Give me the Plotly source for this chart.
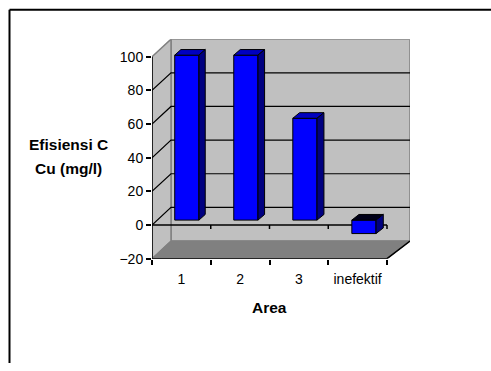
import plotly.graph_objects as go

# ---- data ----
categories = ["1", "2", "3", "inefektif"]
values = [98, 98, 60.5, -8]
y_ticks = [-20, 0, 20, 40, 60, 80, 100]
y_title_lines = ["Efisiensi C", "Cu (mg/l)"]
x_title = "Area"

# ---- geometry / style ----
W, H = 491, 371
Y_MIN, Y_MAX = -20, 100
DEPTH_X = 0.3234      # x-units of full depth
DEPTH_Y = 10.47       # y-units of full depth
PERSP = 0.017
BAR_W = 0.41
D0, D1 = 0.28, 0.60
FONT = "Arial, Liberation Sans, sans-serif"

X_LO = -0.5
X_HI = len(categories) - 0.5


def P(x, y, d):
    return (X_LO + (x - X_LO) * (1 + PERSP * d) + DEPTH_X * d, y + DEPTH_Y * d)


fig = go.Figure()


def poly(pts, fill, line="black", lw=1):
    xs = [p[0] for p in pts] + [pts[0][0]]
    ys = [p[1] for p in pts] + [pts[0][1]]
    fig.add_trace(go.Scatter(x=xs, y=ys, mode="lines", fill="toself",
                             fillcolor=fill, line=dict(color=line, width=lw),
                             hoverinfo="skip", showlegend=False))


def seg(pts, color="black", lw=1):
    fig.add_trace(go.Scatter(x=[p[0] for p in pts], y=[p[1] for p in pts],
                             mode="lines", line=dict(color=color, width=lw),
                             hoverinfo="skip", showlegend=False))


GRAY = "#C0C0C0"
DGRAY = "#808080"

# walls and floor
poly([P(X_LO, Y_MIN, 1), P(X_HI, Y_MIN, 1), P(X_HI, Y_MAX, 1), P(X_LO, Y_MAX, 1)], GRAY, DGRAY, 1.5)
poly([P(X_LO, Y_MIN, 0), P(X_LO, Y_MIN, 1), P(X_LO, Y_MAX, 1), P(X_LO, Y_MAX, 0)], GRAY, DGRAY, 1.5)
poly([P(X_LO, Y_MIN, 0), P(X_HI, Y_MIN, 0), P(X_HI, Y_MIN, 1), P(X_LO, Y_MIN, 1)], DGRAY, DGRAY, 1)

# gridlines
for v in y_ticks:
    if Y_MIN < v < Y_MAX:
        seg([P(X_LO, v, 0), P(X_LO, v, 1), P(X_HI, v, 1)], "black", 1.2)

# front zero line with category ticks (behind bars)
seg([P(X_LO, 0, 0), P(X_HI, 0, 0)], "black", 1.5)
TL = 2.3
for k in range(1, len(categories) + 1):
    b = X_LO + k
    seg([P(b, 0, 0), P(b, -TL, 0)], "black", 1.5)

# bars
for i, v in enumerate(values):
    x0, x1 = i - BAR_W / 2, i + BAR_W / 2
    lo, hi = min(0, v), max(0, v)
    top_col = "#0000C0" if v >= 0 else "#000018"
    poly([P(x0, lo, D0), P(x1, lo, D0), P(x1, hi, D0), P(x0, hi, D0)], "#0000FF")
    poly([P(x0, hi, D0), P(x1, hi, D0), P(x1, hi, D1), P(x0, hi, D1)], top_col)
    poly([P(x1, lo, D0), P(x1, lo, D1), P(x1, hi, D1), P(x1, hi, D0)], "#000080")

# front edges
seg([P(X_LO, Y_MIN, 0), P(X_LO, Y_MAX, 0)], "black", 1.5)
seg([P(X_LO, Y_MIN, 0), P(X_HI, Y_MIN, 0), P(X_HI, Y_MIN, 1)], "black", 1.5)

x_rng = [X_LO, P(X_HI, 0, 1)[0]]
y_rng = [Y_MIN, Y_MAX + DEPTH_Y]

fig.update_layout(
    width=W, height=H, margin=dict(l=0, r=0, t=0, b=0),
    paper_bgcolor="white", plot_bgcolor="rgba(0,0,0,0)",
    font=dict(family=FONT, size=14, color="black"),
    xaxis=dict(domain=[152 / W, 410 / W], range=x_rng, showgrid=False, zeroline=False,
               showline=False, tickmode="array", tickvals=list(range(len(categories))),
               ticktext=categories, ticks="", ticklabelstandoff=10,
               minor=dict(tickmode="array", tickvals=[X_LO + k for k in range(len(categories) + 1)],
                          ticks="outside", ticklen=5, tickcolor="black", tickwidth=1.5),
               fixedrange=True),
    yaxis=dict(domain=[1 - 264.4 / H, 1 - 40 / H], range=y_rng, showgrid=False, zeroline=False,
               showline=False, tickmode="array", tickvals=y_ticks, ticks="outside",
               ticklen=5, tickcolor="black", tickwidth=1.5, fixedrange=True),
    shapes=[
        dict(type="line", xref="paper", yref="paper", x0=9.5 / W, x1=9.5 / W,
             y0=0, y1=1 - 10 / H, line=dict(color="black", width=2)),
        dict(type="line", xref="paper", yref="paper", x0=9.5 / W, x1=1,
             y0=1 - 10 / H, y1=1 - 10 / H, line=dict(color="black", width=2)),
    ],
    annotations=[
        dict(text=y_title_lines[0], x=68.5 / W, y=1 - 147.5 / H, xref="paper", yref="paper",
             showarrow=False, xanchor="center", yanchor="middle",
             font=dict(size=15.5, family=FONT, color="black", weight="bold")),
        dict(text=y_title_lines[1], x=68.5 / W, y=1 - 172.5 / H, xref="paper", yref="paper",
             showarrow=False, xanchor="center", yanchor="middle",
             font=dict(size=15.5, family=FONT, color="black", weight="bold")),
        dict(text=x_title, x=269.5 / W, y=1 - 314.5 / H, xref="paper", yref="paper",
             showarrow=False, xanchor="center", yanchor="middle",
             font=dict(size=15.5, family=FONT, color="black", weight="bold")),
    ],
)

fig.write_html("out.html", config={"displayModeBar": False})
